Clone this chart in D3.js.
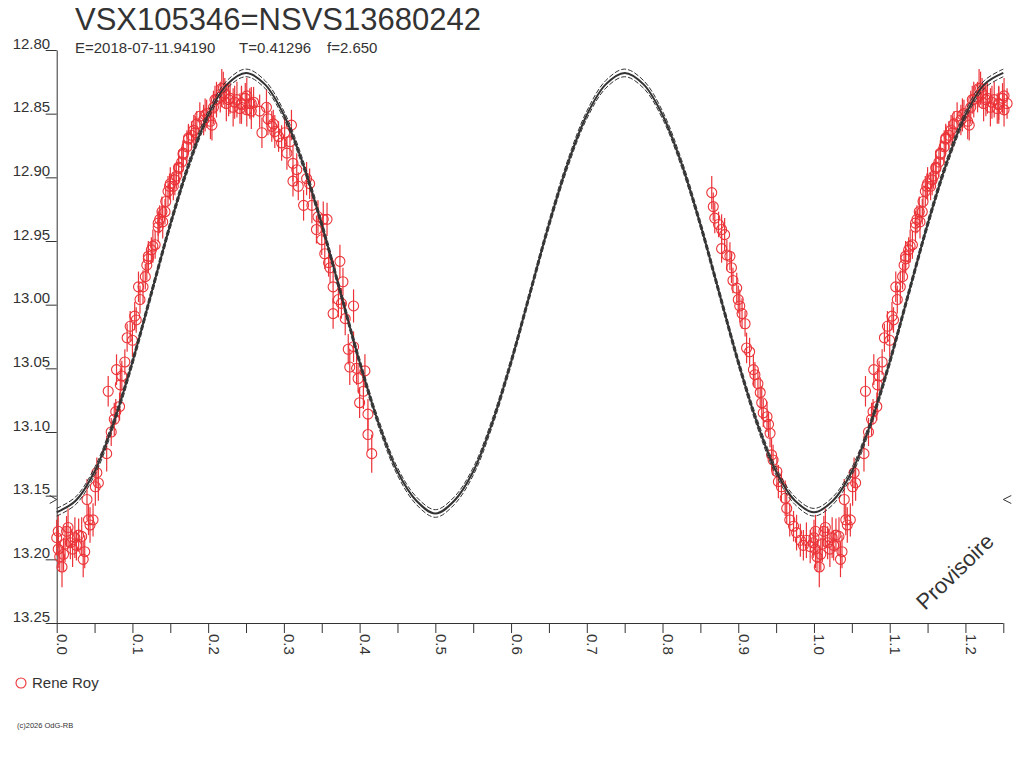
<!DOCTYPE html>
<html><head><meta charset="utf-8">
<script src="https://cdn.jsdelivr.net/npm/d3@7"></script>
<style>
body{margin:0;background:#fff}
svg{display:block}
text{font-family:"Liberation Sans",Arial,sans-serif;fill:#333}
</style>
</head><body>
<svg id="chart" width="1024" height="768"></svg>
<script>
// ---------- texts ----------
const titleText = "VSX105346=NSVS13680242";
const subtitleParts = ["E=2018-07-11.94190", "T=0.41296", "f=2.650"];
const observerName = "Rene Roy";
const creditText = "(c)2026 OdG-RB";
const stampText = "Provisoire";

// ---------- axes ----------
const xTicks = [0,0.05,0.1,0.15,0.2,0.25,0.3,0.35,0.4,0.45,0.5,0.55,0.6,0.65,0.7,0.75,0.8,0.85,0.9,0.95,1.0,1.05,1.1,1.15,1.2,1.25];
const xLabelTicks = [0,0.1,0.2,0.3,0.4,0.5,0.6,0.7,0.8,0.9,1.0,1.1,1.2];
const xLabels = ["0.0","0.1","0.2","0.3","0.4","0.5","0.6","0.7","0.8","0.9","1.0","1.1","1.2"];
const yTicks = [12.80,12.85,12.90,12.95,13.00,13.05,13.10,13.15,13.20,13.25];
const yLabels = ["12.80","12.85","12.90","12.95","13.00","13.05","13.10","13.15","13.20","13.25"];
const refMag = 13.153;

// ---------- fitted light curve ----------
const fitPhase = [0,0.025,0.05,0.075,0.1,0.125,0.15,0.175,0.2,0.225,0.25,0.275,0.3,0.325,0.35,0.375,0.4,0.425,0.45,0.475,
  0.5,0.525,0.55,0.575,0.6,0.625,0.65,0.675,0.7,0.725,0.75,0.775,0.8,0.825,0.85,0.875,0.9,0.925,0.95,0.975,
  1.0,1.025,1.05,1.075,1.1,1.125,1.15,1.175,1.2,1.225,1.25];
const fitMag = [13.163,13.154,13.131,13.093,13.045,12.991,12.937,12.889,12.851,12.827,12.818,12.827,12.851,12.889,12.937,12.991,13.045,13.093,13.131,13.154,
  13.164,13.154,13.131,13.093,13.045,12.991,12.937,12.889,12.851,12.827,12.818,12.827,12.851,12.889,12.937,12.991,13.045,13.093,13.131,13.154,
  13.163,13.154,13.131,13.093,13.045,12.991,12.937,12.889,12.851,12.827,12.818];
const fitSigma = 0.003;

// ---------- observations (phase, magnitude, error) ----------
const obsPhase = [
  0.000,0.002,0.002,0.004,0.007,0.009,0.011,0.013,0.015,0.018,
  0.021,0.024,0.026,0.029,0.033,0.035,0.037,0.040,0.042,0.044,
  0.048,0.051,0.053,0.055,
  0.066,0.068,0.072,0.076,0.078,0.079,0.083,0.084,0.086,0.090,
  0.093,0.097,0.100,0.103,0.105,0.108,0.110,0.114,0.117,0.119,
  0.121,0.121,0.125,0.127,0.130,0.134,0.134,0.136,0.140,0.139,
  0.143,0.144,0.147,0.150,0.149,0.154,0.156,0.158,0.161,0.161,
  0.165,0.167,0.167,0.172,0.174,0.174,0.178,0.181,0.183,0.185,
  0.189,0.194,0.196,0.198,0.203,0.205,0.207,0.209,0.211,0.216,
  0.218,0.220,0.222,0.224,0.227,0.229,0.233,0.235,0.238,0.242,
  0.244,0.244,0.249,0.251,0.251,0.255,0.257,0.257,0.260,
  0.268,0.271,0.277,0.279,0.284,0.286,0.288,0.293,0.297,0.301,
  0.304,0.308,0.310,0.312,0.312,0.317,0.319,0.326,0.330,0.334,
  0.337,0.343,0.345,0.350,0.352,0.354,0.357,0.359,0.361,0.365,
  0.365,0.372,0.374,0.376,0.378,0.381,0.385,0.387,0.392,0.392,
  0.396,0.398,0.400,0.405,0.407,0.411,0.411,0.416,
  0.865,0.867,0.869,0.874,0.878,0.878,0.882,0.885,0.889,0.891,
  0.893,0.898,0.900,0.902,0.905,0.909,0.911,0.915,0.920,0.922,
  0.926,0.929,0.931,0.933,0.938,0.940,0.942,0.944,0.946,0.951,
  0.953,0.957,0.962,0.964,0.968,0.973,0.977,0.982,0.986,0.990,
  0.995,0.999];
const obsMag = [
  13.183,13.178,13.192,13.198,13.206,13.196,13.188,13.178,13.175,13.187,
  13.192,13.183,13.189,13.181,13.182,13.200,13.194,13.153,13.169,13.173,
  13.169,13.143,13.132,13.140,
  13.117,13.068,13.100,13.090,13.084,13.051,13.080,13.063,13.056,13.045,
  13.026,13.017,13.028,13.009,13.012,12.986,12.996,12.986,12.978,12.969,
  12.964,12.962,12.957,12.954,12.953,12.939,12.936,12.933,12.935,12.927,
  12.927,12.919,12.911,12.905,12.907,12.907,12.902,12.899,12.892,12.893,
  12.888,12.881,12.882,12.876,12.870,12.869,12.867,12.863,12.865,12.858,
  12.852,12.855,12.851,12.850,12.856,12.859,12.845,12.839,12.839,12.837,
  12.830,12.830,12.834,12.842,12.839,12.838,12.845,12.841,12.839,12.846,
  12.842,12.843,12.838,12.836,12.847,12.842,12.848,12.842,12.841,
  12.848,12.865,12.845,12.854,12.860,12.858,12.864,12.868,12.873,12.865,
  12.881,12.872,12.859,12.889,12.903,12.894,12.907,12.922,12.901,12.905,
  12.922,12.941,12.931,12.949,12.933,12.960,12.933,12.967,12.971,12.986,
  13.007,12.996,12.966,12.999,12.982,13.011,13.035,13.049,13.001,13.033,
  13.050,13.058,13.077,13.068,13.052,13.086,13.102,13.117,
  12.912,12.923,12.932,12.937,12.941,12.956,12.945,12.961,12.962,12.971,
  12.981,12.987,12.996,13.001,13.007,13.015,13.034,13.037,13.051,13.055,
  13.062,13.069,13.077,13.085,13.088,13.094,13.101,13.118,13.122,13.131,
  13.139,13.143,13.152,13.160,13.169,13.174,13.179,13.185,13.189,13.185,
  13.190,13.187];
const obsErr = [
  0.014,0.013,0.015,0.012,0.016,0.013,0.014,0.012,0.015,0.013,
  0.014,0.016,0.012,0.013,0.015,0.014,0.013,0.016,0.012,0.014,
  0.013,0.015,0.012,0.014,
  0.014,0.012,0.011,0.013,0.010,0.012,0.011,0.013,0.012,0.010,
  0.011,0.012,0.013,0.011,0.010,0.012,0.011,0.013,0.010,0.012,
  0.011,0.012,0.010,0.013,0.011,0.012,0.010,0.011,0.013,0.012,
  0.010,0.011,0.012,0.013,0.010,0.011,0.012,0.010,0.013,0.011,
  0.012,0.010,0.011,0.013,0.012,0.010,0.011,0.012,0.013,0.010,
  0.011,0.012,0.013,0.011,0.014,0.012,0.013,0.011,0.014,0.012,
  0.015,0.013,0.012,0.014,0.013,0.012,0.015,0.013,0.014,0.012,
  0.013,0.015,0.012,0.014,0.013,0.012,0.014,0.013,0.012,
  0.013,0.012,0.014,0.013,0.012,0.011,0.013,0.012,0.014,0.012,
  0.013,0.011,0.012,0.014,0.012,0.013,0.011,0.012,0.013,0.012,
  0.014,0.011,0.013,0.012,0.014,0.012,0.013,0.011,0.012,0.013,
  0.012,0.014,0.013,0.012,0.011,0.013,0.012,0.014,0.013,0.012,
  0.013,0.011,0.012,0.014,0.013,0.012,0.013,0.015,
  0.013,0.011,0.012,0.010,0.012,0.011,0.013,0.012,0.011,0.012,
  0.010,0.012,0.011,0.013,0.012,0.010,0.012,0.011,0.012,0.010,
  0.011,0.012,0.013,0.011,0.012,0.010,0.011,0.013,0.012,0.011,
  0.013,0.012,0.014,0.012,0.013,0.012,0.014,0.013,0.012,0.014,
  0.013,0.012];

// ---------- drawing ----------
const RED = "#eb3338", INK = "#333";
const svg = d3.select("#chart");
const x = d3.scaleLinear().domain([0, 1.25]).range([56.7, 1003.3]);
const y = d3.scaleLinear().domain([12.80, 13.25]).range([50, 623]);

// title
svg.append("text").attr("x", 75).attr("y", 30).style("font-size", "31px").text(titleText);
const subX = [75, 239, 327];
subtitleParts.forEach((t, i) => svg.append("text").attr("x", subX[i]).attr("y", 53).style("font-size", "15px").text(t));

// y axis
const yAxis = d3.axisLeft(y).tickValues(yTicks).tickSize(11).tickSizeOuter(0)
  .tickFormat((d, i) => yLabels[i]);
const gy = svg.append("g").attr("transform", "translate(56.7,0)").call(yAxis);
gy.select(".domain").attr("stroke", INK);
gy.selectAll(".tick line").attr("stroke", INK);
gy.selectAll(".tick text").attr("x", -6.5).attr("dy", "-0.13em")
  .attr("fill", INK).style("font-size", "15px")
  .style("font-family", '"Liberation Sans",Arial,sans-serif');

// x axis
const xAxis = d3.axisBottom(x).tickValues(xTicks).tickSize(10).tickSizeOuter(0).tickFormat("");
const gx = svg.append("g").attr("transform", "translate(0,623)").call(xAxis);
gx.select(".domain").remove();
gx.selectAll(".tick line").attr("stroke", INK);
svg.append("line").attr("x1", 46).attr("x2", x(1.25)).attr("y1", y(13.25)).attr("y2", y(13.25))
  .attr("stroke", INK).attr("shape-rendering", "crispEdges");
svg.append("g").selectAll("text").data(xLabelTicks).join("text")
  .attr("transform", (d) => `translate(${x(d) + 0.5},634) rotate(90)`)
  .style("font-size", "15px").text((d, i) => xLabels[i]);

// reference markers
svg.append("path").attr("d", `M${x(0) - 7},${y(refMag) - 4}L${x(0)},${y(refMag)}L${x(0) - 7},${y(refMag) + 4}`)
  .attr("fill", "none").attr("stroke", INK);
svg.append("path").attr("d", `M${x(1.25) + 8},${y(refMag) - 4}L${x(1.25)},${y(refMag)}L${x(1.25) + 8},${y(refMag) + 4}`)
  .attr("fill", "none").attr("stroke", INK);

// observations (shown at phase and phase+1)
const obs = [];
obsPhase.forEach((p, i) => {
  const e = obsErr[i] || 0.012;
  obs.push({p: p, m: obsMag[i], e: e});
  if (p + 1 <= 1.255) obs.push({p: p + 1, m: obsMag[i], e: e});
});
const gObs = svg.append("g");
gObs.selectAll("line").data(obs).join("line")
  .attr("x1", (d) => x(d.p)).attr("x2", (d) => x(d.p))
  .attr("y1", (d) => y(d.m - d.e)).attr("y2", (d) => y(d.m + d.e))
  .attr("stroke", RED).attr("stroke-width", 1.2);
gObs.selectAll("circle").data(obs).join("circle")
  .attr("cx", (d) => x(d.p)).attr("cy", (d) => y(d.m)).attr("r", 5)
  .attr("fill", "none").attr("stroke", RED).attr("stroke-width", 1.1);

// fit curve
const fit = fitPhase.map((p, i) => ({p: p, m: fitMag[i]}));
const line = (off) => d3.line().x((d) => x(d.p)).y((d) => y(d.m + off)).curve(d3.curveCatmullRom);
svg.append("path").datum(fit).attr("d", line(0)).attr("fill", "none").attr("stroke", INK).attr("stroke-width", 2);
[-fitSigma, fitSigma].forEach((off) => {
  svg.append("path").datum(fit).attr("d", line(off)).attr("fill", "none")
    .attr("stroke", INK).attr("stroke-width", 1).attr("stroke-dasharray", "5,2");
});

// legend
svg.append("circle").attr("cx", 21).attr("cy", 683).attr("r", 5).attr("fill", "none").attr("stroke", RED).attr("stroke-width", 1.1);
svg.append("text").attr("x", 32).attr("y", 688).style("font-size", "15px").text(observerName);

// credit
svg.append("text").attr("x", 17).attr("y", 728).style("font-size", "7.5px").text(creditText);

// stamp
svg.append("text").attr("transform", "translate(925,611) rotate(-44)").style("font-size", "22px").text(stampText);
</script>
</body></html>
